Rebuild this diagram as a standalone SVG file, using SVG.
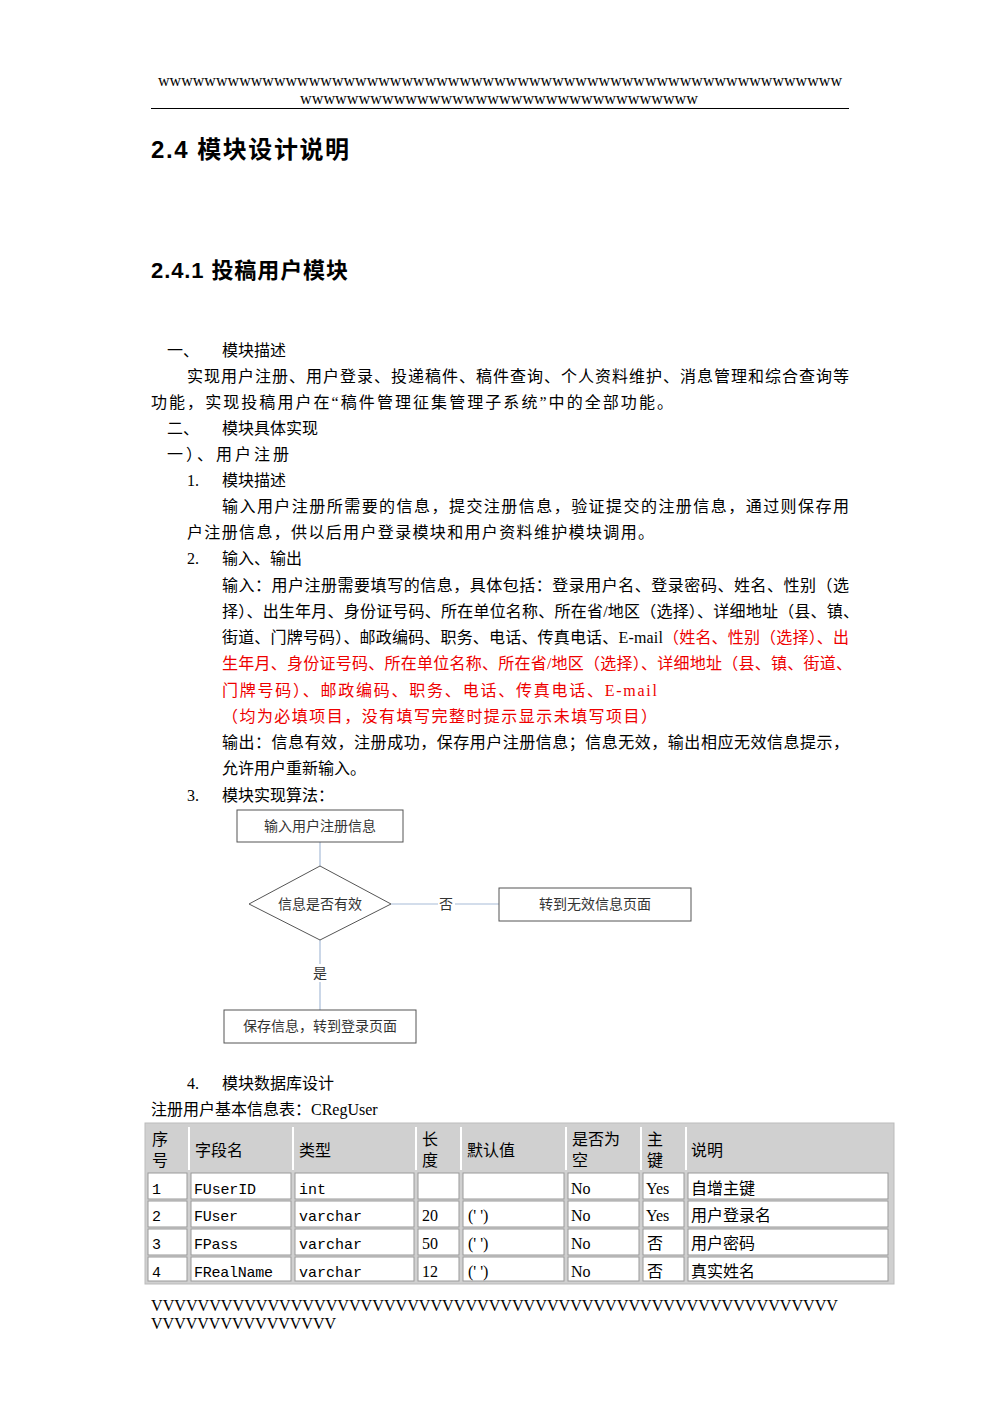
<svg xmlns="http://www.w3.org/2000/svg" width="1000" height="1415" viewBox="0 0 1000 1415">
<style>
text{font-family:"Liberation Serif","Noto Sans CJK SC",serif;font-size:16px;fill:#000}
.h{font-family:"Liberation Sans","Noto Sans CJK SC",sans-serif;font-weight:bold;font-size:24px}
.r{fill:#e00}
.fc{font-size:14px;fill:#333}
.box{fill:#fff;stroke:#555;stroke-width:1}
.ln{stroke:#a8bcd8;stroke-width:1.2;fill:none}
.t{font-size:16px}
.cell{fill:#fff;stroke:#999;stroke-width:1}
.m{font-family:"Liberation Mono",monospace;font-size:15px}
</style>
<rect width="1000" height="1415" fill="#fff"/>
<text x="158" y="86" textLength="684" lengthAdjust="spacingAndGlyphs">wwwwwwwwwwwwwwwwwwwwwwwwwwwwwwwwwwwwwwwwwwwwwwwwwwwwwwwwwww</text>
<text x="300" y="104" textLength="398" lengthAdjust="spacingAndGlyphs">wwwwwwwwwwwwwwwwwwwwwwwwwwwwwwwwww</text>
<line x1="151" y1="108.5" x2="849" y2="108.5" stroke="#000" stroke-width="1.2"/>
<text class="h" x="151" y="158" textLength="198">2.4 模块设计说明</text>
<text class="h" x="151" y="278" style="font-size:22px" textLength="197">2.4.1 投稿用户模块</text>
<text x="167" y="356">一、</text><text x="222" y="356">模块描述</text>
<text x="187" y="382" textLength="662">实现用户注册、用户登录、投递稿件、稿件查询、个人资料维护、消息管理和综合查询等</text>
<text x="151" y="408" textLength="522">功能，实现投稿用户在“稿件管理征集管理子系统”中的全部功能。</text>
<text x="167" y="434">二、</text><text x="222" y="434">模块具体实现</text>
<text x="167" y="460" textLength="122">一）、用户注册</text>
<text x="187" y="486">1.</text><text x="222" y="486">模块描述</text>
<text x="222" y="512" textLength="627">输入用户注册所需要的信息，提交注册信息，验证提交的注册信息，通过则保存用</text>
<text x="187" y="538" textLength="467">户注册信息，供以后用户登录模块和用户资料维护模块调用。</text>
<text x="187" y="564">2.</text><text x="222" y="564">输入、输出</text>
<text x="222" y="591" textLength="627">输入：用户注册需要填写的信息，具体包括：登录用户名、登录密码、姓名、性别（选</text>
<text x="222" y="617" textLength="637">择）、出生年月、身份证号码、所在单位名称、所在省/地区（选择）、详细地址（县、镇、</text>
<text x="222" y="643" textLength="627">街道、门牌号码）、邮政编码、职务、电话、传真电话、E-mail<tspan class="r">（姓名、性别（选择）、出</tspan></text>
<text class="r" x="222" y="669" textLength="630">生年月、身份证号码、所在单位名称、所在省/地区（选择）、详细地址（县、镇、街道、</text>
<text class="r" x="222" y="696" textLength="435">门牌号码）、邮政编码、职务、电话、传真电话、E-mail</text>
<text class="r" x="222" y="722" textLength="435">（均为必填项目，没有填写完整时提示显示未填写项目）</text>
<text x="222" y="748" textLength="627">输出：信息有效，注册成功，保存用户注册信息；信息无效，输出相应无效信息提示，</text>
<text x="222" y="774">允许用户重新输入。</text>
<text x="187" y="801">3.</text><text x="222" y="801">模块实现算法：</text>
<g id="connectors">
<line class="ln" x1="320" y1="842" x2="320" y2="866"/>
<line class="ln" x1="391" y1="904" x2="438" y2="904"/>
<line class="ln" x1="455" y1="904" x2="499" y2="904"/>
<line class="ln" x1="320" y1="940" x2="320" y2="964"/>
<line class="ln" x1="320" y1="982" x2="320" y2="1010"/>
<text class="fc" x="446" y="909" text-anchor="middle">否</text>
<text class="fc" x="320" y="978" text-anchor="middle">是</text>
</g>
<g id="n1"><rect class="box" x="237" y="810" width="166" height="32"/><text class="fc" x="320" y="831" text-anchor="middle">输入用户注册信息</text></g>
<g id="n2"><polygon class="box" points="320,866 391,904 320,940 249,904"/><text class="fc" x="320" y="909" text-anchor="middle">信息是否有效</text></g>
<g id="n3"><rect class="box" x="499" y="888" width="192" height="33"/><text class="fc" x="595" y="909" text-anchor="middle">转到无效信息页面</text></g>
<g id="n4"><rect class="box" x="224" y="1010" width="192" height="33"/><text class="fc" x="320" y="1031" text-anchor="middle">保存信息，转到登录页面</text></g>
<text x="187" y="1089">4.</text><text x="222" y="1089">模块数据库设计</text>
<text x="151" y="1115">注册用户基本信息表：CRegUser</text>
<rect x="145" y="1123" width="749" height="161" fill="#d0d0d0" stroke="#bbb"/>
<g stroke="#fff" stroke-width="2">
<line x1="189" y1="1127" x2="189" y2="1170"/><line x1="293" y1="1127" x2="293" y2="1170"/><line x1="416" y1="1127" x2="416" y2="1170"/><line x1="461" y1="1127" x2="461" y2="1170"/><line x1="566" y1="1127" x2="566" y2="1170"/><line x1="641" y1="1127" x2="641" y2="1170"/><line x1="686" y1="1127" x2="686" y2="1170"/>
</g>
<g>
<rect class="cell" x="148" y="1173" width="39" height="26"/><rect class="cell" x="191" y="1173" width="100" height="26"/><rect class="cell" x="295" y="1173" width="119" height="26"/><rect class="cell" x="418" y="1173" width="41" height="26"/><rect class="cell" x="463" y="1173" width="101" height="26"/><rect class="cell" x="568" y="1173" width="71" height="26"/><rect class="cell" x="643" y="1173" width="41" height="26"/><rect class="cell" x="688" y="1173" width="200" height="26"/>
<rect class="cell" x="148" y="1201" width="39" height="26"/><rect class="cell" x="191" y="1201" width="100" height="26"/><rect class="cell" x="295" y="1201" width="119" height="26"/><rect class="cell" x="418" y="1201" width="41" height="26"/><rect class="cell" x="463" y="1201" width="101" height="26"/><rect class="cell" x="568" y="1201" width="71" height="26"/><rect class="cell" x="643" y="1201" width="41" height="26"/><rect class="cell" x="688" y="1201" width="200" height="26"/>
<rect class="cell" x="148" y="1229" width="39" height="26"/><rect class="cell" x="191" y="1229" width="100" height="26"/><rect class="cell" x="295" y="1229" width="119" height="26"/><rect class="cell" x="418" y="1229" width="41" height="26"/><rect class="cell" x="463" y="1229" width="101" height="26"/><rect class="cell" x="568" y="1229" width="71" height="26"/><rect class="cell" x="643" y="1229" width="41" height="26"/><rect class="cell" x="688" y="1229" width="200" height="26"/>
<rect class="cell" x="148" y="1257" width="39" height="24"/><rect class="cell" x="191" y="1257" width="100" height="24"/><rect class="cell" x="295" y="1257" width="119" height="24"/><rect class="cell" x="418" y="1257" width="41" height="24"/><rect class="cell" x="463" y="1257" width="101" height="24"/><rect class="cell" x="568" y="1257" width="71" height="24"/><rect class="cell" x="643" y="1257" width="41" height="24"/><rect class="cell" x="688" y="1257" width="200" height="24"/>
</g>
<g class="t">
<text x="152" y="1145">序</text><text x="152" y="1166">号</text>
<text x="195" y="1156">字段名</text><text x="299" y="1156">类型</text>
<text x="422" y="1145">长</text><text x="422" y="1166">度</text>
<text x="467" y="1156">默认值</text>
<text x="572" y="1145">是否为</text><text x="572" y="1166">空</text>
<text x="647" y="1145">主</text><text x="647" y="1166">键</text>
<text x="691" y="1156">说明</text>
</g>
<g>
<text class="m" x="152" y="1194">1</text><text class="m" x="194" y="1194" textLength="62">FUserID</text><text class="m" x="299" y="1194">int</text><text x="571" y="1194">No</text><text x="646" y="1194">Yes</text><text x="691" y="1194">自增主键</text>
<text class="m" x="152" y="1221">2</text><text class="m" x="194" y="1221" textLength="44">FUser</text><text class="m" x="299" y="1221" textLength="63">varchar</text><text x="422" y="1221">20</text><text x="468" y="1221">(' ')</text><text x="571" y="1221">No</text><text x="646" y="1221">Yes</text><text x="691" y="1221">用户登录名</text>
<text class="m" x="152" y="1249">3</text><text class="m" x="194" y="1249" textLength="44">FPass</text><text class="m" x="299" y="1249" textLength="63">varchar</text><text x="422" y="1249">50</text><text x="468" y="1249">(' ')</text><text x="571" y="1249">No</text><text x="647" y="1249">否</text><text x="691" y="1249">用户密码</text>
<text class="m" x="152" y="1277">4</text><text class="m" x="194" y="1277" textLength="79">FRealName</text><text class="m" x="299" y="1277" textLength="63">varchar</text><text x="422" y="1277">12</text><text x="468" y="1277">(' ')</text><text x="571" y="1277">No</text><text x="647" y="1277">否</text><text x="691" y="1277">真实姓名</text>
</g>
<text x="151" y="1311" textLength="687" lengthAdjust="spacingAndGlyphs">VVVVVVVVVVVVVVVVVVVVVVVVVVVVVVVVVVVVVVVVVVVVVVVVVVVVVVVVVVV</text>
<text x="151" y="1329" textLength="185" lengthAdjust="spacingAndGlyphs">VVVVVVVVVVVVVVVV</text>
</svg>
